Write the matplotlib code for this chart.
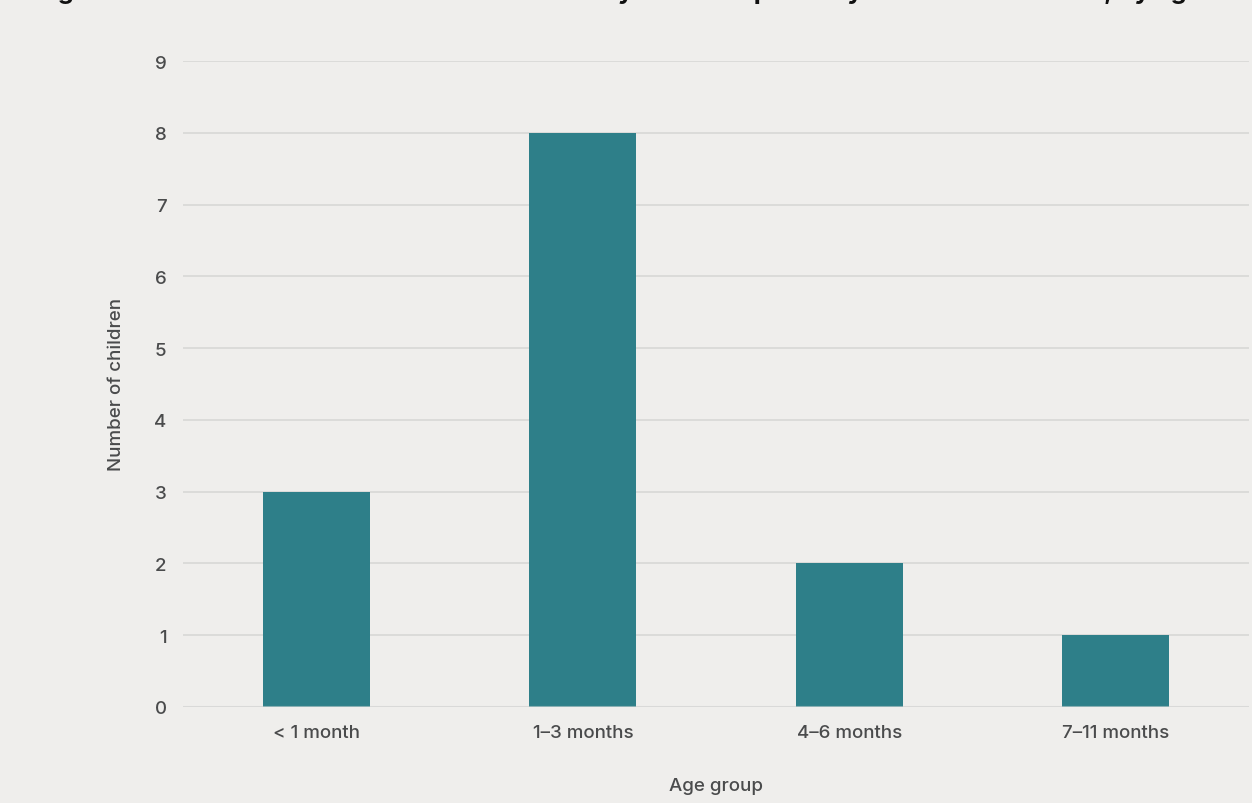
import matplotlib.pyplot as plt
import matplotlib as mpl

mpl.rcParams['font.family'] = ['Inter', 'DejaVu Sans']

# data
age_groups = ['< 1 month', '1–3 months', '4–6 months', '7–11 months']
children = [3, 8, 2, 1]
y_ticks = [0, 1, 2, 3, 4, 5, 6, 7, 8, 9]

bg = '#efeeec'
bar_color = '#2e7f89'
grid_color = '#d9d9d8'
text_color = '#4a4b4c'
lab_font = 13.5

fig = plt.figure(figsize=(12.52, 8.04), dpi=100, facecolor=bg)
ax = fig.add_axes([183.4 / 1252, 1 - 708 / 804, (1248.6 - 183.4) / 1252, (708 - 62) / 804])
ax.set_facecolor(bg)

x = list(range(len(age_groups)))
ax.bar(x, children, width=0.402, color=bar_color, zorder=2)
ax.axhline(0, color=grid_color, linewidth=1.5, alpha=0.55, zorder=3)

ax.set_xlim(-0.5, 3.5)
ax.set_ylim(0, 9)
ax.set_yticks(y_ticks)
ax.set_xticks(x)
ax.set_xticklabels(age_groups)
ax.yaxis.grid(True, color=grid_color, linewidth=1.3, zorder=0)
ax.set_axisbelow(True)

for s in ax.spines.values():
    s.set_visible(False)
ax.tick_params(axis='both', length=0, labelsize=lab_font, colors=text_color)
ax.tick_params(axis='y', pad=12)
ax.tick_params(axis='x', pad=12.5)
for label in ax.get_xticklabels() + ax.get_yticklabels():
    label.set_fontweight('medium')

ax.set_xlabel('Age group', fontsize=lab_font, color=text_color, labelpad=26, fontweight='medium')
ax.set_ylabel('Number of children', fontsize=lab_font, color=text_color, labelpad=21, fontweight='medium')

# title sits above the visible area, only its descenders show
fig.text(36 / 1252, 1 + 1.5 / 804,
         'Figure 4: Number of children who died suddenly and unexpectedly in their own homes, by age band',
         fontsize=18.3, fontweight='bold', color='#111111', va='baseline', ha='left')

fig.savefig('out.png', dpi=100, facecolor=bg)
